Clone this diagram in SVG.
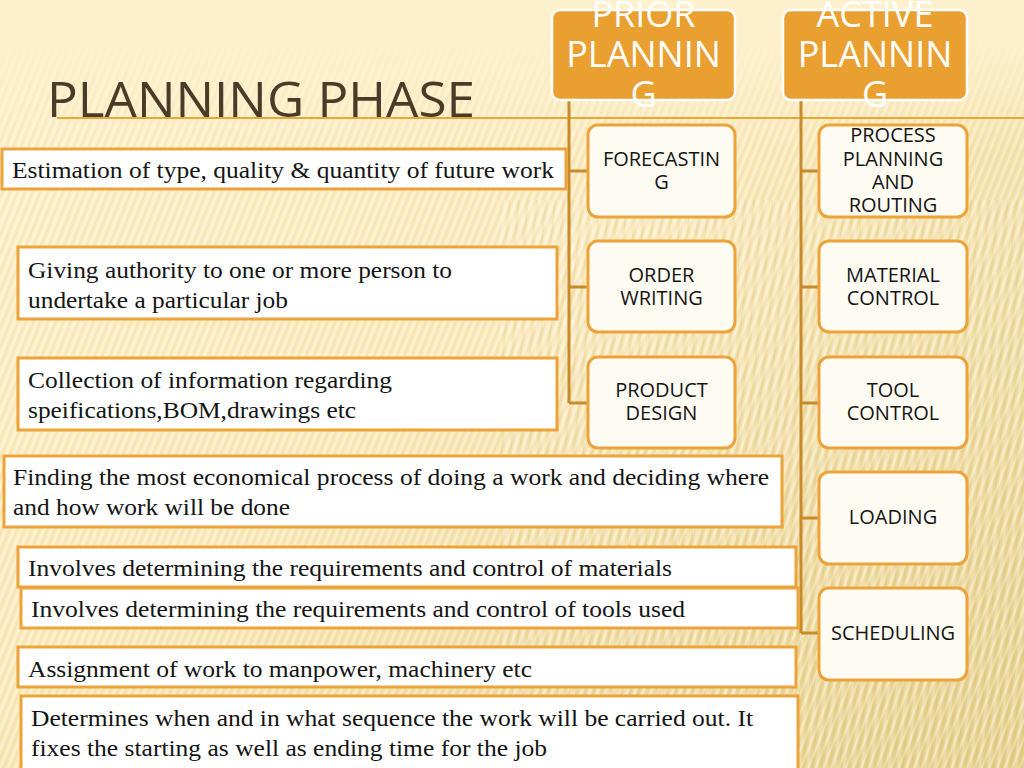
<svg xmlns="http://www.w3.org/2000/svg" width="1024" height="768" viewBox="0 0 1024 768">
<defs>
<linearGradient id="bg" x1="0" y1="0" x2="1" y2="1">
<stop offset="0" stop-color="#fdf0cc"/>
<stop offset="0.45" stop-color="#fbeabc"/>
<stop offset="1" stop-color="#e6cf88"/>
</linearGradient>
<linearGradient id="fadeTop" x1="0" y1="0" x2="0" y2="1">
<stop offset="0" stop-color="#fdf0cc" stop-opacity="1"/>
<stop offset="0.06" stop-color="#fdf0cc" stop-opacity="0.9"/>
<stop offset="0.2" stop-color="#fdf0cc" stop-opacity="0"/>
</linearGradient>
<pattern id="stripes" width="7" height="40" patternUnits="userSpaceOnUse" patternTransform="rotate(22)">
<rect x="0" y="0" width="2" height="40" fill="#ffffff" opacity="0.35"/>
<rect x="3.5" y="0" width="1.5" height="40" fill="#c9a650" opacity="0.12"/>
</pattern>
<pattern id="stripes2" width="9" height="40" patternUnits="userSpaceOnUse" patternTransform="rotate(6)">
<rect x="0" y="0" width="3" height="40" fill="#ffffff" opacity="0.25"/>
<rect x="5" y="0" width="2" height="40" fill="#b89440" opacity="0.1"/>
</pattern>
<style>
.hdr{fill:#eaa031;stroke:#ffffff;stroke-width:2.5}
.hdrt{font-family:"Open Sans","Noto Sans",sans-serif;font-size:36px;fill:#ffffff;text-anchor:middle}
.child{fill:#fefbf3;stroke:#eba33a;stroke-width:3}
.ct{font-family:"Open Sans","Noto Sans",sans-serif;font-size:20px;fill:#141414;text-anchor:middle}
.desc{fill:#ffffff;stroke:#eba33a;stroke-width:3}
.dt{font-family:"Liberation Serif","Times New Roman",serif;font-size:24px;fill:#141414}
.conn{fill:none;stroke:#c98a2c;stroke-width:3}
</style>
</defs>
<rect x="0" y="0" width="1024" height="768" fill="url(#bg)"/>
<rect x="0" y="0" width="1024" height="768" fill="url(#stripes)"/>
<rect x="500" y="200" width="524" height="568" fill="url(#stripes2)"/>
<rect x="0" y="0" width="1024" height="768" fill="url(#fadeTop)"/>

<g id="title">
<text x="47" y="117" font-family="'Open Sans','Noto Sans',sans-serif" font-size="50" fill="#4a3a28" textLength="428" lengthAdjust="spacingAndGlyphs">PLANNING PHASE</text>
<line x1="57" y1="118" x2="1024" y2="118" stroke="#e8a838" stroke-width="2"/>
</g>

<g id="connectors">
<path class="conn" d="M569 100 V403 M569 171 H588 M569 287 H588 M569 403 H588"/>
<path class="conn" d="M801 100 V633 M801 171 H819 M801 287 H819 M801 403 H819 M801 518 H819 M801 633 H819"/>
</g>

<g id="prior-planning">
<rect class="hdr" x="552" y="10" width="183" height="90" rx="8"/>
<text class="hdrt" x="643.5" y="27">PRIOR</text>
<text class="hdrt" x="643.5" y="67">PLANNIN</text>
<text class="hdrt" x="643.5" y="107">G</text>
</g>
<g id="active-planning">
<rect class="hdr" x="783" y="10" width="184" height="90" rx="8"/>
<text class="hdrt" x="875" y="27">ACTIVE</text>
<text class="hdrt" x="875" y="67">PLANNIN</text>
<text class="hdrt" x="875" y="107">G</text>
</g>

<g id="forecasting">
<rect class="child" x="588" y="125" width="147" height="92" rx="10"/>
<text class="ct" x="661.5" y="166">FORECASTIN</text>
<text class="ct" x="661.5" y="189">G</text>
</g>
<g id="order-writing">
<rect class="child" x="588" y="241" width="147" height="91" rx="10"/>
<text class="ct" x="661.5" y="282">ORDER</text>
<text class="ct" x="661.5" y="305">WRITING</text>
</g>
<g id="product-design">
<rect class="child" x="588" y="357" width="147" height="91" rx="10"/>
<text class="ct" x="661.5" y="397">PRODUCT</text>
<text class="ct" x="661.5" y="420">DESIGN</text>
</g>

<g id="process-planning">
<rect class="child" x="819" y="125" width="148" height="92" rx="10"/>
<text class="ct" x="893" y="142">PROCESS</text>
<text class="ct" x="893" y="166">PLANNING</text>
<text class="ct" x="893" y="189">AND</text>
<text class="ct" x="893" y="212">ROUTING</text>
</g>
<g id="material-control">
<rect class="child" x="819" y="241" width="148" height="91" rx="10"/>
<text class="ct" x="893" y="282">MATERIAL</text>
<text class="ct" x="893" y="305">CONTROL</text>
</g>
<g id="tool-control">
<rect class="child" x="819" y="357" width="148" height="91" rx="10"/>
<text class="ct" x="893" y="397">TOOL</text>
<text class="ct" x="893" y="420">CONTROL</text>
</g>
<g id="loading">
<rect class="child" x="819" y="472" width="148" height="92" rx="10"/>
<text class="ct" x="893" y="524">LOADING</text>
</g>
<g id="scheduling">
<rect class="child" x="819" y="588" width="148" height="92" rx="10"/>
<text class="ct" x="893" y="640">SCHEDULING</text>
</g>

<g id="desc-forecasting">
<rect class="desc" x="2" y="149" width="564" height="40"/>
<text class="dt" x="12" y="178" textLength="542" lengthAdjust="spacingAndGlyphs">Estimation of type, quality &amp; quantity of future work</text>
</g>
<g id="desc-order-writing">
<rect class="desc" x="18" y="247" width="539" height="72"/>
<text class="dt" x="28" y="278" textLength="424" lengthAdjust="spacingAndGlyphs">Giving authority to one or more person to</text>
<text class="dt" x="28" y="308" textLength="260" lengthAdjust="spacingAndGlyphs">undertake a particular job</text>
</g>
<g id="desc-product-design">
<rect class="desc" x="18" y="358" width="539" height="72"/>
<text class="dt" x="28" y="388" textLength="364" lengthAdjust="spacingAndGlyphs">Collection of information regarding</text>
<text class="dt" x="28" y="418" textLength="328" lengthAdjust="spacingAndGlyphs">speifications,BOM,drawings etc</text>
</g>
<g id="desc-process-planning">
<rect class="desc" x="4" y="456" width="778" height="71"/>
<text class="dt" x="13" y="485" textLength="756" lengthAdjust="spacingAndGlyphs">Finding the most economical process of doing a work and deciding where</text>
<text class="dt" x="13" y="515" textLength="277" lengthAdjust="spacingAndGlyphs">and how work will be done</text>
</g>
<g id="desc-material-control">
<rect class="desc" x="18" y="547" width="778" height="40"/>
<text class="dt" x="28" y="576" textLength="644" lengthAdjust="spacingAndGlyphs">Involves determining the requirements and control of materials</text>
</g>
<g id="desc-tool-control">
<rect class="desc" x="21" y="588" width="777" height="40"/>
<text class="dt" x="31" y="617" textLength="654" lengthAdjust="spacingAndGlyphs">Involves determining the requirements and control of tools used</text>
</g>
<g id="desc-loading">
<rect class="desc" x="18" y="647" width="778" height="40"/>
<text class="dt" x="28" y="677" textLength="504" lengthAdjust="spacingAndGlyphs">Assignment of work to manpower, machinery etc</text>
</g>
<g id="desc-scheduling">
<rect class="desc" x="21" y="696" width="777" height="80"/>
<text class="dt" x="31" y="726" textLength="722" lengthAdjust="spacingAndGlyphs">Determines when and in what sequence the work will be carried out. It</text>
<text class="dt" x="31" y="756" textLength="516" lengthAdjust="spacingAndGlyphs">fixes the starting as well as ending time for the job</text>
</g>
</svg>
